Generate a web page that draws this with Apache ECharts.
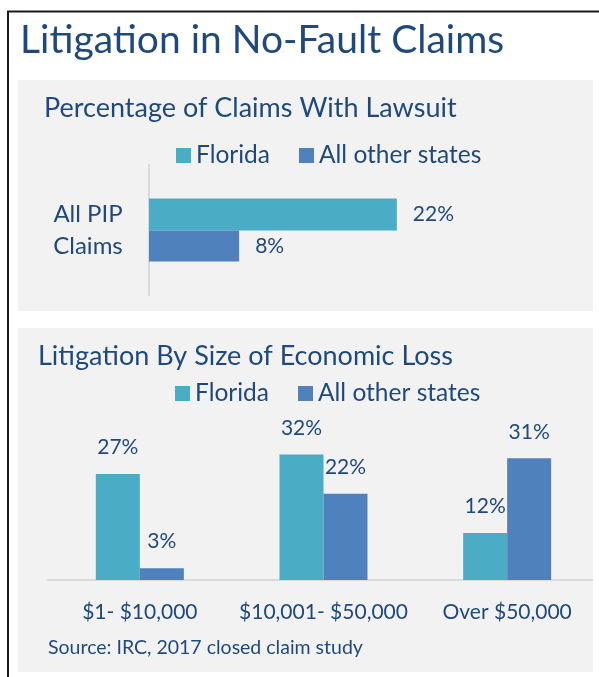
<!DOCTYPE html>
<html>
<head>
<meta charset="utf-8">
<style>
  html, body { margin: 0; padding: 0; background: #ffffff; }
  #main { width: 599px; height: 677px; }
</style>
<script src="https://cdn.jsdelivr.net/npm/echarts@6/dist/echarts.min.js"></script>
</head>
<body>
<div id="main"></div>
<script>
var chartDom = document.getElementById('main');
var myChart = echarts.init(chartDom, null, { renderer: 'canvas' });
var option;

// data
const seriesNames = ['Florida', 'All other states'];
const pipCategories = ['All PIP\nClaims'];
const pipFlorida = [22];
const pipOther = [8];
const lossCategories = ['$1- $10,000', '$10,001- $50,000', 'Over $50,000'];
const lossFlorida = [27, 32, 12];
const lossOther = [3, 22, 31];

const FONT = 'Lato';
const TEXT = '#1f497d';
const COLORS = ['#4bacc6', '#4f81bd'];
const pct = p => p.value + '%';

option = {
  animation: false,
  color: COLORS,
  textStyle: { fontFamily: FONT, color: TEXT },
  graphic: [
    { type: 'rect', shape: { x: 18, y: 80, width: 575, height: 231 }, style: { fill: '#f2f2f2' }, z: -10 },
    { type: 'rect', shape: { x: 18, y: 328, width: 575, height: 344 }, style: { fill: '#f2f2f2' }, z: -10 },
    { type: 'line', shape: { x1: 7, y1: 11.5, x2: 599, y2: 11.5 }, style: { stroke: '#1a1a1a', lineWidth: 2 } },
    { type: 'line', shape: { x1: 8, y1: 11, x2: 8, y2: 677 }, style: { stroke: '#1a1a1a', lineWidth: 2 } },
    // keep the lower axis line inside the panel
    { type: 'rect', shape: { x: 593, y: 570, width: 6, height: 20 }, style: { fill: '#ffffff' }, z: 100 },
    {
      type: 'text', left: 48, top: 638, z: 10,
      style: { text: 'Source: IRC, 2017 closed claim study', font: '19.5px ' + FONT, fill: TEXT }
    }
  ],
  title: [
    { text: 'Litigation in No-Fault Claims', left: 15, top: 16,
      textStyle: { fontFamily: FONT, fontSize: 39, fontWeight: 'normal', color: TEXT } },
    { text: 'Percentage of Claims With Lawsuit', left: 39, top: 90,
      textStyle: { fontFamily: FONT, fontSize: 27, fontWeight: 'normal', color: TEXT } },
    { text: 'Litigation By Size of Economic Loss', left: 33, top: 338,
      textStyle: { fontFamily: FONT, fontSize: 27, fontWeight: 'normal', color: TEXT } }
  ],
  legend: [
    { data: seriesNames, left: 171, top: 138, itemWidth: 15, itemHeight: 15, itemGap: 29,
      icon: 'rect', textStyle: { fontFamily: FONT, fontSize: 24.5, color: TEXT } },
    { data: seriesNames, left: 170, top: 376, itemWidth: 15, itemHeight: 15, itemGap: 29,
      icon: 'rect', textStyle: { fontFamily: FONT, fontSize: 24.5, color: TEXT } }
  ],
  grid: [
    { left: 149, top: 165, width: 338, height: 130 },
    { left: 48, top: 423, width: 556, height: 157 }
  ],
  xAxis: [
    { gridIndex: 0, type: 'value', min: 0, max: 30, show: false },
    {
      gridIndex: 1, type: 'category', data: lossCategories,
      axisLine: { lineStyle: { color: '#d9d9d9', width: 2 } },
      axisTick: { show: false },
      axisLabel: { interval: 0, fontFamily: FONT, fontSize: 21, color: TEXT, margin: 22 }
    }
  ],
  yAxis: [
    {
      gridIndex: 0, type: 'category', data: pipCategories, inverse: true,
      axisLine: { lineStyle: { color: '#d9d9d9', width: 2 } },
      axisTick: { show: false },
      axisLabel: { fontFamily: FONT, fontSize: 24, color: TEXT, margin: 61, lineHeight: 32, align: 'center' }
    },
    { gridIndex: 1, type: 'value', min: 0, max: 40, show: false }
  ],
  series: [
    {
      name: seriesNames[0], type: 'bar', xAxisIndex: 0, yAxisIndex: 0, data: pipFlorida,
      barWidth: 32, barGap: 0,
      label: { show: true, position: 'right', distance: 16, formatter: pct, fontFamily: FONT, fontSize: 21, color: TEXT }
    },
    {
      name: seriesNames[1], type: 'bar', xAxisIndex: 0, yAxisIndex: 0, data: pipOther,
      barWidth: 31, barGap: 0,
      label: { show: true, position: 'right', distance: 16, formatter: pct, fontFamily: FONT, fontSize: 21, color: TEXT }
    },
    {
      name: seriesNames[0], type: 'bar', xAxisIndex: 1, yAxisIndex: 1, data: lossFlorida,
      barWidth: 44, barGap: 0,
      label: { show: true, position: 'top', distance: 16, formatter: pct, fontFamily: FONT, fontSize: 21, color: TEXT }
    },
    {
      name: seriesNames[1], type: 'bar', xAxisIndex: 1, yAxisIndex: 1, data: lossOther,
      barWidth: 44, barGap: 0,
      label: { show: true, position: 'top', distance: 16, formatter: pct, fontFamily: FONT, fontSize: 21, color: TEXT }
    }
  ]
};

option && myChart.setOption(option);

window.onresize = function() {
  myChart.resize();
};
</script>
</body>
</html>
